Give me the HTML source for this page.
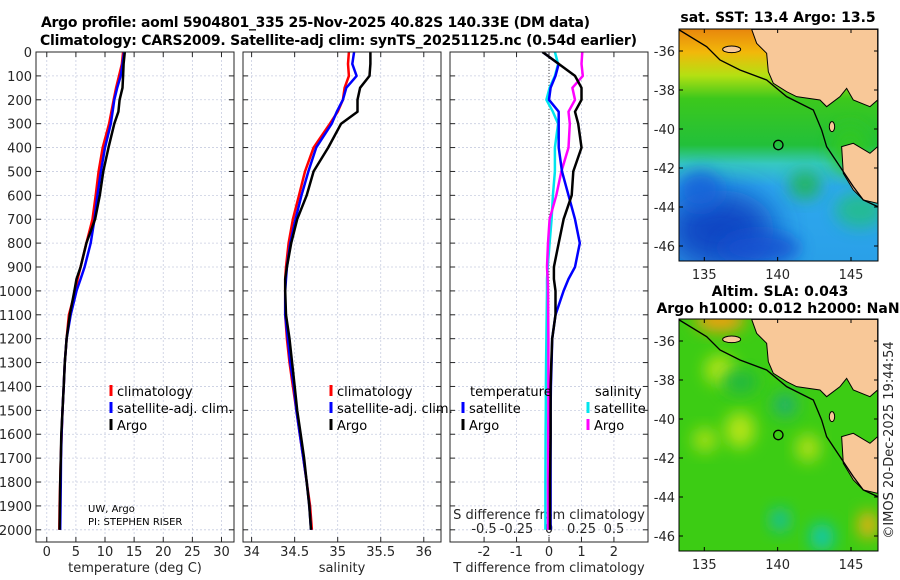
<!DOCTYPE html>
<html><head><meta charset="utf-8"><style>
html,body{margin:0;padding:0;background:#fff;}
svg{display:block;font-family:"DejaVu Sans","Liberation Sans",sans-serif;}
.tk{font-size:13px;fill:#262626;}
.lg{font-size:13px;fill:#000;}
.ttl{font-size:14px;font-weight:bold;fill:#000;}
</style></head><body>
<svg id="fig" width="900" height="580" viewBox="0 0 900 580">
<defs>
<linearGradient id="sstg" x1="0" y1="0" x2="0" y2="1">
<stop offset="0" stop-color="#e8860c"/><stop offset="0.1" stop-color="#f2b80a"/><stop offset="0.2" stop-color="#b4e012"/><stop offset="0.3" stop-color="#3cc81c"/><stop offset="0.5" stop-color="#22c03a"/><stop offset="0.58" stop-color="#36c8c0"/><stop offset="0.68" stop-color="#2ea8ee"/><stop offset="1" stop-color="#2aa0e8"/>
</linearGradient>
<filter id="bl" x="-50%" y="-50%" width="200%" height="200%"><feGaussianBlur stdDeviation="16"/></filter>
<filter id="bl2" x="-50%" y="-50%" width="200%" height="200%"><feGaussianBlur stdDeviation="8"/></filter>
<clipPath id="c1"><rect x="679" y="29" width="199" height="232"/></clipPath>
<clipPath id="c2"><rect x="679" y="319" width="199" height="232"/></clipPath>
<clipPath id="cp1"><rect x="36" y="52" width="198" height="490"/></clipPath>
<clipPath id="cp2"><rect x="243" y="52" width="198" height="490"/></clipPath>
<clipPath id="cp3"><rect x="450" y="52" width="198" height="490"/></clipPath>
</defs>
<text class="ttl" x="41" y="27" textLength="549">Argo profile: aoml 5904801_335 25-Nov-2025 40.82S 140.33E (DM data)</text>
<text class="ttl" x="40" y="45" textLength="597">Climatology: CARS2009. Satellite-adj clim: synTS_20251125.nc (0.54d earlier)</text>
<g id="panels"></g>
<g id="maps">
 <g clip-path="url(#c1)">
  <rect x="679" y="29" width="199" height="232" fill="url(#sstg)"/>
  <ellipse cx="720" cy="230" rx="55" ry="40" fill="#0a3cc0" filter="url(#bl)" opacity="0.9"/>
  <ellipse cx="760" cy="248" rx="40" ry="16" fill="#1250d0" filter="url(#bl2)" opacity="0.8"/>
  <ellipse cx="700" cy="190" rx="22" ry="20" fill="#1860d8" filter="url(#bl2)" opacity="0.8"/>
  <ellipse cx="860" cy="210" rx="25" ry="18" fill="#20c080" filter="url(#bl2)" opacity="0.8"/>
  <ellipse cx="850" cy="150" rx="20" ry="25" fill="#30c820" filter="url(#bl2)" opacity="0.9"/>
  <ellipse cx="805" cy="185" rx="16" ry="14" fill="#22b840" filter="url(#bl2)" opacity="0.8"/>
  <g transform="translate(640,0) scale(0.3333)">
   <polygon points="335,88 350,130 380,160 385,215 400,250 440,275 470,290 540,300 560,320 600,290 620,265 640,300 690,320 713,300 713,440 690,460 640,430 605,440 610,520 640,570 670,600 713,610 713,88" fill="#f8c898" stroke="#000" stroke-width="3"/>
   <ellipse cx="275" cy="148" rx="27" ry="10" fill="#f8c898" stroke="#000" stroke-width="3"/>
   <ellipse cx="576" cy="380" rx="8" ry="15" fill="#f8c898" stroke="#000" stroke-width="3"/>
   <polyline points="118,90 200,140 240,180 300,210 380,240 440,290 520,330 545,390 560,440 600,500 640,560 670,600 713,620" fill="none" stroke="#000" stroke-width="4"/>
   <circle cx="415" cy="435" r="14" fill="none" stroke="#000" stroke-width="4"/>
  </g>
 </g>
 <rect x="679" y="29" width="199" height="232" fill="none" stroke="#000" stroke-width="1"/>
 <g clip-path="url(#c2)">
  <rect x="679" y="319" width="199" height="232" fill="#3ccc14"/>
  <ellipse cx="720" cy="370" rx="15" ry="15" fill="#b4e414" filter="url(#bl2)"/>
  <ellipse cx="740" cy="430" rx="15" ry="18" fill="#b4e414" filter="url(#bl2)"/>
  <ellipse cx="705" cy="440" rx="12" ry="12" fill="#a8e014" filter="url(#bl2)"/>
  <ellipse cx="808" cy="448" rx="12" ry="14" fill="#b0e014" filter="url(#bl2)"/>
  <ellipse cx="740" cy="382" rx="18" ry="12" fill="#20b840" filter="url(#bl2)"/>
  <ellipse cx="785" cy="405" rx="12" ry="12" fill="#20b070" filter="url(#bl2)"/>
  <ellipse cx="780" cy="520" rx="10" ry="12" fill="#18c0a0" filter="url(#bl2)"/>
  <ellipse cx="822" cy="537" rx="12" ry="14" fill="#10c8b0" filter="url(#bl2)"/>
  <ellipse cx="868" cy="525" rx="10" ry="14" fill="#f0b010" filter="url(#bl2)"/>
  <ellipse cx="720" cy="320" rx="25" ry="12" fill="#f0a010" filter="url(#bl2)"/>
  <g transform="translate(640,290) scale(0.3333)">
   <polygon points="335,88 350,130 380,160 385,215 400,250 440,275 470,290 540,300 560,320 600,290 620,265 640,300 690,320 713,300 713,440 690,460 640,430 605,440 610,520 640,570 670,600 713,610 713,88" fill="#f8c898" stroke="#000" stroke-width="3"/>
   <ellipse cx="275" cy="148" rx="27" ry="10" fill="#f8c898" stroke="#000" stroke-width="3"/>
   <ellipse cx="576" cy="380" rx="8" ry="15" fill="#f8c898" stroke="#000" stroke-width="3"/>
   <polyline points="118,90 200,140 240,180 300,210 380,240 440,290 520,330 545,390 560,440 600,500 640,560 670,600 713,620" fill="none" stroke="#000" stroke-width="4"/>
   <circle cx="415" cy="435" r="14" fill="none" stroke="#000" stroke-width="4"/>
  </g>
 </g>
 <rect x="679" y="319" width="199" height="232" fill="none" stroke="#000" stroke-width="1"/>
 <text class="ttl" x="778" y="22" text-anchor="middle">sat. SST: 13.4 Argo: 13.5</text>
 <text class="ttl" x="780" y="296" text-anchor="middle">Altim. SLA: 0.043</text>
 <text class="ttl" x="778" y="313" text-anchor="middle">Argo h1000: 0.012 h2000: NaN</text>
 <text class="tk" transform="translate(893,440) rotate(-90)" text-anchor="middle">©IMOS 20-Dec-2025 19:44:54</text>
 <g id="mapticks"></g>
</g>
</svg>
<script>
// depth levels (dbar)
const depT = [0,50,100,150,200,250,300,400,500,600,700,800,900,950,1000,1100,1200,1300,1400,1500,1600,1700,1800,1900,2000];
const tempClim = [13.1,12.9,12.4,11.9,11.5,11.1,10.7,9.6,8.9,8.4,7.85,6.8,5.8,5.3,4.9,3.8,3.4,3.1,2.9,2.7,2.55,2.4,2.3,2.2,2.15];
const tempSat  = [13.3,13.0,12.7,12.1,11.6,11.3,11.0,10.0,9.3,8.7,8.2,7.55,6.5,5.8,5.1,4.1,3.4,3.1,2.9,2.7,2.55,2.45,2.4,2.35,2.3];
const tempArgo = [13.4,13.2,13.1,13.0,12.5,12.3,11.6,10.6,9.7,9.1,8.3,6.8,5.8,5.1,4.75,3.95,3.4,3.1,2.9,2.7,2.5,2.4,2.3,2.25,2.2];
const salClim = [35.13,35.12,35.13,35.08,35.06,35.0,34.91,34.72,34.62,34.55,34.48,34.43,34.40,34.39,34.39,34.39,34.41,34.44,34.48,34.52,34.56,34.60,34.64,34.68,34.70];
const salSat  = [35.19,35.17,35.22,35.10,35.06,34.99,34.93,34.75,34.66,34.58,34.51,34.45,34.41,34.40,34.39,34.39,34.42,34.45,34.49,34.52,34.56,34.60,34.64,34.67,34.69];
const salArgo = [35.38,35.38,35.37,35.26,35.23,35.23,35.04,34.89,34.72,34.64,34.53,34.46,34.41,34.39,34.39,34.40,34.44,34.47,34.50,34.53,34.57,34.61,34.64,34.67,34.69];
const dTSat  = [-0.2,0.3,0.2,0.05,0.0,0.3,0.3,0.3,0.4,0.6,0.8,0.95,0.8,0.6,0.45,0.2,0.1,0.08,0.06,0.05,0.05,0.05,0.05,0.05,0.05];
const dTArgo = [-0.2,0.3,0.8,1.0,1.0,0.8,0.9,1.0,0.75,0.7,0.45,0.3,0.15,0.15,0.2,0.2,0.1,0.07,0.05,0.05,0.05,0.04,0.03,0.03,0.03];
const dSSat  = [0.045,0.07,0.045,0.005,-0.02,0.03,0.07,0.045,0.045,0.03,0.02,0.005,-0.01,-0.015,-0.015,-0.018,-0.02,-0.022,-0.024,-0.025,-0.026,-0.027,-0.028,-0.028,-0.028];
const dSArgo = [0.256,0.25,0.26,0.18,0.2,0.15,0.16,0.15,0.095,0.056,0.005,-0.008,-0.015,-0.01,-0.008,-0.006,-0.005,-0.005,-0.005,-0.005,-0.006,-0.007,-0.008,-0.008,-0.008];
const depthTicks = [0,100,200,300,400,500,600,700,800,900,1000,1100,1200,1300,1400,1500,1600,1700,1800,1900,2000];
const tTicks = [0,5,10,15,20,25,30];
const sTicks = [34,34.5,35,35.5,36];
const dTTicks = [-2,-1,0,1,2];
const dSTicks = [-0.5,-0.25,0,0.25,0.5];
const dSLabels = ['-0.5','-0.25','0','0.25','0.5'];
const latTicks = [-36,-38,-40,-42,-44,-46];
const lonTicks = [135,140,145];

const NS='http://www.w3.org/2000/svg';
const Y0=52, Y1=542;
const yD = d => Y0 + d*0.2389;
function mk(tag, attrs, parent){const e=document.createElementNS(NS,tag);for(const k in attrs)e.setAttribute(k,attrs[k]);parent.appendChild(e);return e;}
const root=document.getElementById('panels');
const panels=[
 {x0:36,lo:-1.85,hi:32.15,ticks:tTicks,labels:tTicks.map(String),xlabel:'temperature (deg C)',clip:'cp1'},
 {x0:243,lo:33.9,hi:36.2,ticks:sTicks,labels:sTicks.map(String),xlabel:'salinity',clip:'cp2'},
 {x0:450,lo:-3.05,hi:3.05,ticks:dTTicks,labels:dTTicks.map(String),xlabel:'T difference from climatology',clip:'cp3'}
];
function xScale(p){return v => p.x0 + (v-p.lo)/(p.hi-p.lo)*198;}
panels.forEach((p,i)=>{
 const g=mk('g',{},root);
 
 
 p.g=g; p.xs=xScale(p);
 depthTicks.forEach(d=>{const l=mk('line',{x1:p.x0,x2:p.x0+198,y1:yD(d),y2:yD(d),stroke:'#c8cde0','stroke-width':0.8,'stroke-dasharray':'2,2'},g);
  
  mk('line',{x1:p.x0,x2:p.x0+5,y1:yD(d),y2:yD(d),stroke:'#262626'},g);
  mk('line',{x1:p.x0+193,x2:p.x0+198,y1:yD(d),y2:yD(d),stroke:'#262626'},g);});
 p.ticks.forEach((v,j)=>{const x=p.xs(v);
  const l=mk('line',{x1:x,x2:x,y1:Y0,y2:Y1,stroke:'#c8cde0','stroke-width':0.8,'stroke-dasharray':'2,2'},g);
  
  mk('line',{x1:x,x2:x,y1:Y1,y2:Y1-5,stroke:'#262626'},g);
  mk('line',{x1:x,x2:x,y1:Y0,y2:Y0+5,stroke:'#262626'},g);
  const t=mk('text',{x:x,y:556,'text-anchor':'middle',class:'tk'},g);t.textContent=p.labels[j];
  });
 const xl=mk('text',{x:p.x0+99,y:572,'text-anchor':'middle',class:'tk'},g);xl.textContent=p.xlabel;
 
});
depthTicks.forEach(d=>{const t=mk('text',{x:32,y:yD(d)+5,'text-anchor':'end',class:'tk'},root);t.textContent=String(d);
 });
const p3=panels[2];
const xS = v => p3.xs(0) + v*130;
dSTicks.forEach((v,j)=>{const t=mk('text',{x:xS(v),y:533,'text-anchor':'middle',class:'tk'},p3.g);t.textContent=dSLabels[j];
 });
{const t=mk('text',{x:549,y:519,'text-anchor':'middle',class:'tk'},p3.g);t.textContent='S difference from climatology';
 }
{const l=mk('line',{x1:p3.xs(0),x2:p3.xs(0),y1:Y0,y2:Y1,stroke:'#444','stroke-dasharray':'1,2'},p3.g);
 }
function line(p,xs,vals,color,name){
 const pts=vals.map((v,i)=>xs(v).toFixed(1)+','+yD(depT[i]).toFixed(1)).join(' ');
 const e=mk('polyline',{points:pts,fill:'none',stroke:color,'stroke-width':2.5,'stroke-linejoin':'round','clip-path':'url(#'+p.clip+')'},p.g);
 
}
line(panels[0],panels[0].xs,tempClim,'#ff0000','temp-climatology-line');
line(panels[0],panels[0].xs,tempSat,'#0000ff','temp-satellite-line');
line(panels[0],panels[0].xs,tempArgo,'#000000','temp-argo-line');
line(panels[1],panels[1].xs,salClim,'#ff0000','sal-climatology-line');
line(panels[1],panels[1].xs,salSat,'#0000ff','sal-satellite-line');
line(panels[1],panels[1].xs,salArgo,'#000000','sal-argo-line');
line(p3,xS,dSSat,'#00e5ee','sdiff-satellite-line');
line(p3,xS,dSArgo,'#ff00ff','sdiff-argo-line');
line(p3,p3.xs,dTSat,'#0000ff','tdiff-satellite-line');
line(p3,p3.xs,dTArgo,'#000000','tdiff-argo-line');
panels.forEach(p=>{const r=mk('rect',{x:p.x0,y:Y0,width:198,height:Y1-Y0,fill:'none',stroke:'#262626','stroke-width':1},p.g);
 });
function leg(g,x,y,color,label){
 const m=mk('rect',{x:x-1.5,y:y-11,width:3,height:11,fill:color},g);
 
 const t=mk('text',{x:x+6,y:y,class:'lg'},g);t.textContent=label;
 
}
[[panels[0],111],[panels[1],331]].forEach(([p,x])=>{
 leg(p.g,x,396,'#ff0000','climatology');leg(p.g,x,413,'#0000ff','satellite-adj. clim.');leg(p.g,x,430,'#000000','Argo');});
{const g=p3.g;
 const a=mk('text',{x:470,y:396,class:'lg'},g);a.textContent='temperature';
 const b=mk('text',{x:595,y:396,class:'lg'},g);b.textContent='salinity';
 leg(g,463,413,'#0000ff','satellite');leg(g,463,430,'#000000','Argo');
 leg(g,588,413,'#00e5ee','satellite');leg(g,588,430,'#ff00ff','Argo');}
{const t=mk('text',{x:88,y:512,style:'font-size:10px'},panels[0].g);t.textContent='UW, Argo';
 const u=mk('text',{x:88,y:525,style:'font-size:10px'},panels[0].g);u.textContent='PI: STEPHEN RISER';}
const mt=document.getElementById('mapticks');
[{top:29,lat0:51},{top:319,lat0:341}].forEach(m=>{
 latTicks.forEach(v=>{const y=m.lat0+(-36-v)*19.5;
  mk('line',{x1:679,x2:683,y1:y,y2:y,stroke:'#000'},mt);mk('line',{x1:874,x2:878,y1:y,y2:y,stroke:'#000'},mt);
  const t=mk('text',{x:675,y:y+5,'text-anchor':'end',class:'tk'},mt);t.textContent=String(v);
  });
 lonTicks.forEach(v=>{const x=704.3+(v-135)*14.67;
  mk('line',{x1:x,x2:x,y1:m.top+232,y2:m.top+228,stroke:'#000'},mt);mk('line',{x1:x,x2:x,y1:m.top,y2:m.top+4,stroke:'#000'},mt);
  const t=mk('text',{x:x,y:m.top+250,'text-anchor':'middle',class:'tk'},mt);t.textContent=String(v);
  });
});
</script>
</body></html>
